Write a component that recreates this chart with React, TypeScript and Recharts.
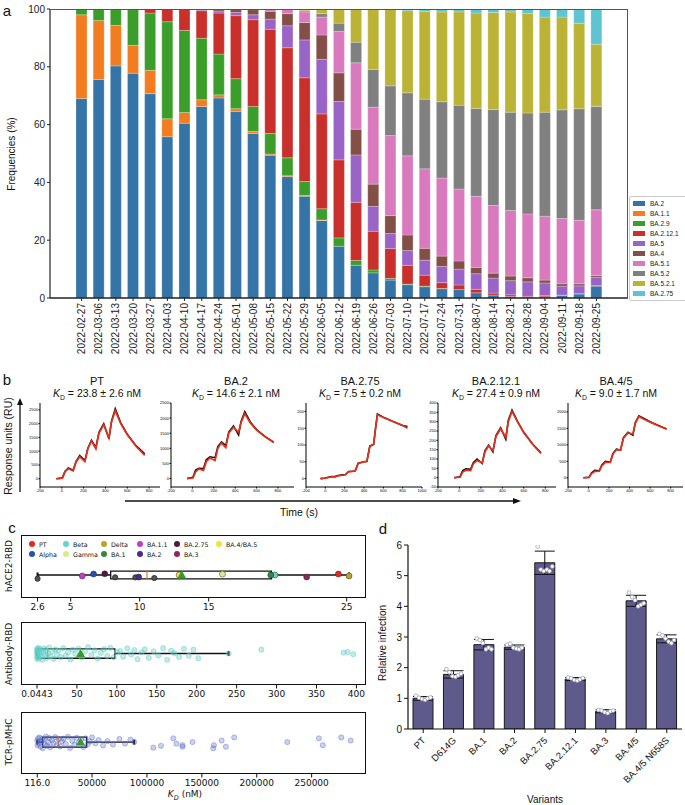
import React from "react"
import {
  Bar, BarChart, ComposedChart, ErrorBar, Legend, Line, LineChart,
  ReferenceArea, ReferenceLine, Scatter, XAxis, YAxis,
} from "recharts"

// ---------- panel a: lineage frequencies ----------
const weeks = [
  "2022-02-27", "2022-03-06", "2022-03-13", "2022-03-20", "2022-03-27", "2022-04-03", "2022-04-10",
  "2022-04-17", "2022-04-24", "2022-05-01", "2022-05-08", "2022-05-15", "2022-05-22", "2022-05-29",
  "2022-06-05", "2022-06-12", "2022-06-19", "2022-06-26", "2022-07-03", "2022-07-10", "2022-07-17",
  "2022-07-24", "2022-07-31", "2022-08-07", "2022-08-14", "2022-08-21", "2022-08-28", "2022-09-04",
  "2022-09-11", "2022-09-18", "2022-09-25",
]
const lineages = ["BA.2", "BA.1.1", "BA.2.9", "BA.2.12.1", "BA.5", "BA.4", "BA.5.1", "BA.5.2", "BA.5.2.1", "BA.2.75"]
const lineageColors = ["#3574a6", "#f47c20", "#3b9e2a", "#c9302c", "#9a63c6", "#844f47", "#d97abf", "#808080", "#bab335", "#5ec4d2"]

const freqBA2 = [69.0, 75.6, 80.3, 77.8, 70.7, 55.8, 60.5, 66.3, 69.2, 64.5, 56.9, 49.4, 42.0, 35.2, 26.8, 17.9, 11.3, 8.7, 6.2, 4.6, 3.9, 3.2, 2.9, 1.8, 1.0, 0.5, 0.3, 0.4, 0.9, 1.4, 4.1]
const freqBA11 = [29.0, 20.4, 14.0, 9.6, 8.1, 6.2, 3.7, 2.3, 1.1, 1.0, 0.7, 0.4, 0.3, 0.3, 0.2, 0, 0, 0, 0, 0, 0, 0, 0, 0, 0, 0, 0, 0, 0, 0, 0]
const freqBA29 = [2.0, 4.0, 5.7, 12.4, 19.8, 33.6, 28.4, 21.3, 14.1, 10.4, 8.7, 7.1, 6.2, 4.8, 3.9, 2.9, 1.7, 1.0, 0.6, 0.2, 0.2, 0.1, 0, 0, 0, 0, 0, 0, 0, 0, 0]
const freqBA2121 = [0, 0, 0, 0.2, 1.4, 4.4, 7.2, 9.5, 14.2, 21.8, 30.0, 36.1, 38.1, 35.9, 32.8, 27.0, 20.1, 13.4, 10.3, 6.5, 3.8, 2.0, 1.6, 1.2, 0.7, 0.6, 0.3, 0.4, 0.1, 0.1, 0.2]
const freqBA5 = [0, 0, 0, 0, 0, 0, 0.2, 0.4, 0.7, 1.1, 1.7, 3.5, 7.6, 13.1, 18.9, 20.2, 16.4, 8.6, 5.2, 5.1, 5.2, 5.6, 5.5, 5.4, 5.2, 4.9, 5.0, 4.4, 3.1, 2.7, 2.9]
const freqBA4 = [0, 0, 0, 0, 0, 0, 0, 0.2, 0.7, 1.2, 1.8, 2.7, 4.2, 6.0, 8.4, 9.9, 8.9, 7.7, 6.2, 5.4, 4.1, 3.6, 2.8, 2.2, 1.7, 1.6, 1.4, 1.0, 0.8, 0.7, 0.6]
const freqBA51 = [0, 0, 0, 0, 0, 0, 0, 0, 0, 0, 0.2, 0.8, 1.6, 3.7, 6.2, 14.3, 23.0, 26.6, 27.7, 27.4, 27.5, 27.0, 24.9, 24.6, 23.4, 22.7, 22.1, 22.1, 22.6, 22.0, 22.7]
const freqBA52 = [0, 0, 0, 0, 0, 0, 0, 0, 0, 0, 0, 0, 0, 0.4, 1.2, 2.9, 7.1, 13.1, 17.2, 21.8, 24.1, 26.4, 29.0, 30.4, 33.2, 34.0, 34.9, 36.0, 37.6, 38.6, 35.8]
const freqBA521 = [0, 0, 0, 0, 0, 0, 0, 0, 0, 0, 0, 0, 0, 0.6, 1.6, 4.9, 11.5, 20.9, 26.4, 28.4, 30.4, 31.1, 32.3, 33.0, 33.6, 34.7, 34.5, 32.9, 32.1, 29.6, 21.5]
const freqBA275 = [0, 0, 0, 0, 0, 0, 0, 0, 0, 0, 0, 0, 0, 0, 0, 0, 0, 0, 0.2, 0.6, 0.8, 1.0, 1.0, 1.4, 1.2, 1.0, 1.5, 2.8, 2.8, 4.9, 12.2]
const freqSeries = [freqBA2, freqBA11, freqBA29, freqBA2121, freqBA5, freqBA4, freqBA51, freqBA52, freqBA521, freqBA275]
const freqTicks = [0, 20, 40, 60, 80, 100]

// ---------- panel b: SPR sensorgrams ----------
const sprTime = [-50, 5, 30, 60, 104, 130, 164, 212, 238, 272, 312, 340, 384, 432, 455, 490, 540, 600, 680, 760]
const ptMeasured = [0, 30, 270, 390, 310, 620, 840, 660, 1100, 1400, 1130, 1680, 2000, 1450, 2080, 2540, 2030, 1620, 1200, 900]
const ptFit = [0, 20, 260, 360, 290, 600, 800, 620, 1080, 1370, 1090, 1650, 1960, 1480, 2050, 2470, 2000, 1600, 1180, 850]
const ba2Measured = [0, 40, 280, 340, 330, 620, 720, 690, 1060, 1210, 1090, 1540, 1740, 1440, 1890, 2210, 1880, 1620, 1390, 1200]
const ba2Fit = [0, 20, 220, 320, 270, 560, 680, 600, 1000, 1180, 1020, 1500, 1700, 1530, 1850, 2150, 1850, 1600, 1380, 1200]
const ba275Time = [-50, 0, 60, 100, 130, 180, 210, 240, 290, 310, 340, 400, 430, 460, 500, 520, 539, 600, 700, 800, 850]
const ba275Measured = [0, 2, 6, 6, 9, 11, 12, 21, 22, 23, 46, 50, 51, 97, 102, 152, 192, 183, 170, 158, 155]
const ba275Fit = [0, 1, 5, 5, 8, 10, 12, 20, 22, 24, 45, 50, 52, 95, 103, 150, 190, 182, 170, 158, 150]
const ba2121Measured = [0, 5, 38, 48, 45, 82, 100, 76, 145, 174, 138, 226, 268, 206, 306, 362, 303, 243, 182, 133]
const ba2121Fit = [0, 2, 30, 40, 38, 75, 92, 80, 140, 170, 145, 220, 262, 215, 300, 355, 300, 240, 180, 130]
const ba45Measured = [0, 15, 150, 225, 210, 390, 500, 480, 740, 870, 840, 1220, 1380, 1290, 1670, 1880, 1800, 1700, 1590, 1480]
const ba45Fit = [0, 10, 130, 190, 200, 360, 470, 470, 720, 850, 850, 1200, 1360, 1330, 1650, 1860, 1780, 1690, 1580, 1480]

// ---------- panel c: K_D distributions ----------
const hostVariants = ["PT", "Alpha", "Beta", "Gamma", "Delta", "BA.1", "BA.1.1", "BA.2", "BA.2.75", "BA.3", "BA.4/BA.5"]
const hostColors = ["#e8281e", "#2a4fb5", "#62d3cf", "#dfe98a", "#b7a726", "#2f8a39", "#c03fc9", "#4b2b8a", "#4e1a42", "#8c2a5c", "#f2e23a"]
const hace2Kd = [24.4, 6.66, 19.8, 16.0, 25.17, 19.5, 5.84, 9.93, 7.47, 22.1, 12.86]
const hace2Jitter = [0.04, 0.04, 0.0, 0.04, -0.04, 0.0, -0.04, -0.09, 0.05, -0.09, 0.0]
const hace2OtherKd = [2.6, 8.22, 9.69, 11.06]
const hace2OtherJitter = [-0.16, -0.1, -0.1, -0.13]
const hace2Box = [2.6, 7.9, 10.53, 19.55, 25.17]
const hace2Mean = 13.05
const hace2Ticks = [2.6, 5, 10, 15, 25]

const antibodyKd = [0.04, 0.1, 0.2, 0.3, 0.5, 0.7, 0.9, 1.2, 1.5, 2, 2.5, 3, 3.5, 4, 5, 6, 7, 8, 9, 10, 11, 12, 14, 15, 17, 19, 21, 23, 25, 27, 30, 33, 36, 39, 42, 45, 48, 52, 56, 60, 64, 68, 72, 76, 80, 84, 88, 92, 96, 100, 104, 108, 113, 118, 122, 126, 131, 135, 140, 146, 152, 158, 163, 168, 172, 178, 184, 190, 196, 202, 240, 281, 384, 389, 396]
const antibodyJitter = [0.05, -0.12, 0.15, -0.03, 0.1, -0.18, 0.02, 0.12, -0.08, 0.18, -0.15, 0.06, -0.02, 0.14, -0.1, 0.08, -0.2, 0.03, 0.16, -0.06, 0.11, -0.14, 0.0, 0.19, -0.09, 0.07, -0.17, 0.13, -0.04, 0.09, -0.11, 0.17, -0.07, 0.04, -0.19, 0.12, -0.01, 0.15, -0.13, 0.06, 0.2, -0.05, 0.1, -0.16, 0.02, 0.14, -0.08, 0.18, -0.12, 0.05, 0.08, -0.1, 0.16, -0.03, 0.11, -0.18, 0.04, 0.13, -0.14, 0.07, -0.06, 0.17, -0.2, 0.09, 0.01, -0.11, 0.15, -0.07, 0.12, -0.15, 0.0, 0.12, 0.03, 0.05, -0.02]
const antibodyBox = [0.0443, 0.5, 13.4, 97.5, 240]
const antibodyMean = 54.6
const antibodyTicks = [0.0443, 50, 100, 150, 200, 250, 300, 350, 400]

const tcrKd = [116, 400, 900, 1500, 2200, 3000, 3800, 4500, 5200, 6000, 7000, 8000, 9000, 10000, 11000, 12000, 13500, 15000, 16500, 18000, 19500, 21000, 22500, 24000, 26000, 28000, 30000, 32000, 34000, 36000, 38000, 40000, 42000, 44000, 46000, 48000, 50000, 53000, 56000, 60000, 64000, 69000, 75000, 80000, 85000, 88400, 105800, 112800, 124000, 126900, 132400, 132400, 141500, 160400, 161000, 168000, 171900, 179500, 227800, 256600, 260100, 277000, 285500]
const tcrJitter = [0.05, -0.1, 0.12, -0.05, 0.15, -0.15, 0.02, 0.1, -0.2, 0.07, -0.08, 0.18, -0.12, 0.0, 0.13, -0.17, 0.06, -0.03, 0.16, -0.1, 0.09, -0.14, 0.03, 0.11, -0.06, 0.17, -0.19, 0.04, -0.09, 0.14, -0.02, 0.08, -0.16, 0.12, -0.07, 0.02, 0.15, -0.04, 0.06, -0.11, 0.03, -0.08, 0.1, -0.05, 0.08, 0.0, -0.18, -0.12, 0.12, -0.05, -0.1, -0.15, 0.0, -0.2, -0.1, 0.05, -0.15, 0.15, 0.0, 0.12, -0.1, 0.15, 0.05]
const tcrBox = [116, 5000, 19200, 45100, 88400]
const tcrMean = 39600
const tcrTicks = [116, 50000, 100000, 150000, 200000, 250000]

// ---------- panel d: relative infection ----------
const infectionVariants = ["PT", "D614G", "BA.1", "BA.2", "BA.2.75", "BA.2.12.1", "BA.3", "BA.4/5", "BA.4/5 N658S"]
const infectionMean = [1.0, 1.78, 2.75, 2.67, 5.42, 1.63, 0.58, 4.18, 2.94]
const infectionErr = [0.06, 0.12, 0.17, 0.07, 0.38, 0.05, 0.05, 0.18, 0.13]
const infectionReps = [
  [1.08, 1.02, 0.98, 0.95, 1.0, 1.03],
  [1.95, 1.85, 1.72, 1.7, 1.75, 1.8],
  [2.95, 2.9, 2.8, 2.6, 2.65, 2.6],
  [2.75, 2.78, 2.65, 2.62, 2.6, 2.65],
  [5.95, 5.2, 5.15, 5.2, 5.15, 5.3],
  [1.68, 1.65, 1.6, 1.58, 1.62, 1.66],
  [0.62, 0.6, 0.55, 0.52, 0.58, 0.6],
  [4.45, 4.3, 4.2, 4.0, 4.05, 4.1],
  [3.1, 3.05, 2.95, 2.85, 2.8, 2.9],
]
const repOffsets = [-0.24, -0.14, -0.04, 0.06, 0.15, 0.24]

const ARIAL = '"Liberation Sans", Arial, sans-serif'
const DEJAVU = '"DejaVu Sans", sans-serif'

function Txt({ cx, cy, size, rotate, family, children }: any) {
  return (
    <div style={{
      position: "absolute", left: cx, top: cy, whiteSpace: "nowrap", lineHeight: 1,
      fontSize: size, fontFamily: family || ARIAL,
      transform: `translate(-50%, -50%)${rotate ? ` rotate(${rotate}deg)` : ""}`,
    }}>{children}</div>
  )
}

function Kd({ text }: { text: string }) {
  return (
    <span>
      <i>K</i><span style={{ fontSize: "0.65em", position: "relative", top: 3 }}>D</span> = {text}
    </span>
  )
}

const DateTick = ({ x, y, payload }: any) => (
  <text x={x} y={y} transform={`rotate(-90 ${x} ${y})`} textAnchor="end" dominantBaseline="central"
    fontSize={10} fill="#222" fontFamily={ARIAL}>{payload.value}</text>
)

const VariantTick = ({ x, y, payload }: any) => (
  <text x={x + 3} y={y + 6} transform={`rotate(-45 ${x + 3} ${y + 6})`} textAnchor="end"
    fontSize={9.5} fill="#111" fontFamily={ARIAL}>{payload.value}</text>
)

function FreqLegend() {
  return (
    <div style={{ border: "1px solid #ccc", borderRadius: 2, background: "#fff", padding: "1px 3px", fontFamily: ARIAL }}>
      {lineages.map((name, i) => (
        <div key={name} style={{ display: "flex", alignItems: "center", height: 10.1, fontSize: 6.5, color: "#222" }}>
          <span style={{ width: 12, height: 5, background: lineageColors[i], marginRight: 5, display: "inline-block" }} />
          {name}
        </div>
      ))}
    </div>
  )
}

function FrequencyPanel() {
  const rows = weeks.map((w, i) => {
    const row: any = { week: w }
    lineages.forEach((l, k) => { row[l] = freqSeries[k][i] })
    return row
  })
  return (
    <>
      <div style={{ position: "absolute", left: 0, top: 0 }}>
        <BarChart width={685} height={380} data={rows} margin={{ top: 9, right: 57, left: 0, bottom: 0 }} barSize={11}>
          <XAxis dataKey="week" interval={0} height={82} tick={<DateTick />} tickSize={3}
            padding={{ left: 23, right: 23 }} axisLine={{ stroke: "#222", strokeWidth: 1.5 }} tickLine={{ stroke: "#222" }} />
          <YAxis domain={[0, 100]} ticks={freqTicks} width={50} tickSize={3} allowDataOverflow
            tick={{ fontSize: 10, fill: "#222", fontFamily: ARIAL }}
            axisLine={{ stroke: "#222", strokeWidth: 1.2 }} tickLine={{ stroke: "#222" }} />
          {lineages.map((l, k) => (
            <Bar key={l} dataKey={l} stackId="f" fill={lineageColors[k]} stroke="rgba(255,255,255,0.6)" strokeWidth={0.4} isAnimationActive={false} />
          ))}
          <Legend layout="vertical" align="center" verticalAlign="middle" content={() => <FreqLegend />}
            wrapperStyle={{ left: 629, top: 196, width: 62 }} />
        </BarChart>
      </div>
      <div style={{ position: "absolute", left: 50, top: 9, width: 578, height: 289, boxSizing: "border-box", borderTop: "1px solid #555", borderRight: "1px solid #555" }} />
      <Txt cx={12} cy={154} size={10} rotate={-90}>Frequencies (%)</Txt>
    </>
  )
}

function SprChart({ left, width, time, measured, fit, xDomain, xTicks, yDomain, yTicks, title, kd, titleX, right = 2 }: any) {
  const rows = time.map((t: number, i: number) => ({ t, measured: measured[i], fit: fit[i] }))
  const tickStyle = { fontSize: 4, fill: "#000", fontFamily: ARIAL }
  return (
    <>
      <Txt cx={titleX} cy={381} size={11}>{title}</Txt>
      <Txt cx={titleX} cy={393} size={10.5}><Kd text={kd} /></Txt>
      <div style={{ position: "absolute", left: left - 14, top: 400 }}>
        <LineChart width={width + 14 + right} height={95} data={rows} margin={{ top: 3, right, left: 0, bottom: 0 }}>
          <XAxis type="number" dataKey="t" domain={xDomain} ticks={xTicks} interval={0} allowDataOverflow height={8}
            tick={tickStyle} tickSize={1.5} tickMargin={0.5} axisLine={{ stroke: "#000" }} tickLine={{ stroke: "#000" }} />
          <YAxis type="number" domain={yDomain} ticks={yTicks} interval={0} allowDataOverflow width={14}
            tick={tickStyle} tickSize={1.5} tickMargin={0.5} axisLine={{ stroke: "#000" }} tickLine={{ stroke: "#000" }} />
          <Line type="linear" dataKey="measured" stroke="#111" strokeWidth={1.6} dot={false} isAnimationActive={false} />
          <Line type="linear" dataKey="fit" stroke="#e5301d" strokeWidth={1.7} dot={false} isAnimationActive={false} />
        </LineChart>
      </div>
    </>
  )
}

function SprPanel() {
  const t1 = [-200, 0, 200, 400, 600, 800]
  const t2 = [-200, 0, 200, 400, 600, 800, 1000]
  return (
    <>
      <SprChart left={40} width={120} time={sprTime} measured={ptMeasured} fit={ptFit} xDomain={[-200, 900]} xTicks={t1}
        yDomain={[-300, 2750]} yTicks={[0, 500, 1000, 1500, 2000, 2500]} title="PT" kd="23.8 ± 2.6 nM" titleX={97} />
      <SprChart left={171} width={123} time={sprTime} measured={ba2Measured} fit={ba2Fit} xDomain={[-200, 950]} xTicks={t1}
        yDomain={[-280, 2500]} yTicks={[0, 500, 1000, 1500, 2000, 2500]} title="BA.2" kd="14.6 ± 2.1 nM" titleX={236} />
      <SprChart left={306} width={116} right={8} time={ba275Time} measured={ba275Measured} fit={ba275Fit} xDomain={[-200, 1000]} xTicks={t2}
        yDomain={[-25, 225]} yTicks={[0, 50, 100, 150, 200]} title="BA.2.75" kd="7.5 ± 0.2 nM" titleX={360} />
      <SprChart left={438} width={118} time={sprTime} measured={ba2121Measured} fit={ba2121Fit} xDomain={[-200, 900]} xTicks={t1}
        yDomain={[-50, 400]} yTicks={[-50, 0, 50, 100, 150, 200, 250, 300, 350, 400]} title="BA.2.12.1" kd="27.4 ± 0.9 nM" titleX={496} />
      <SprChart left={568} width={115} time={sprTime} measured={ba45Measured} fit={ba45Fit} xDomain={[-200, 920]} xTicks={t1}
        yDomain={[-280, 2270]} yTicks={[0, 500, 1000, 1500, 2000]} title="BA.4/5" kd="9.0 ± 1.7 nM" titleX={616} />
      <svg style={{ position: "absolute", left: 0, top: 390 }} width={685} height={130}>
        <line x1={20} y1={102} x2={20} y2={13} stroke="#111" strokeWidth={1.3} />
        <polygon points="20,8 17,15 23,15" fill="#111" />
        <line x1={125} y1={111} x2={514} y2={111} stroke="#111" strokeWidth={1.3} />
        <polygon points="521,111 513,108 513,114" fill="#111" />
      </svg>
      <Txt cx={8} cy={446} size={10.5} rotate={-90}>Response units (RU)</Txt>
      <Txt cx={299} cy={512} size={10.5}>Time (s)</Txt>
    </>
  )
}

const dotShape = (r: number, fill: string, stroke: string) => (p: any) =>
  <circle cx={p.cx} cy={p.cy} r={r} fill={fill} stroke={stroke} strokeWidth={0.8} />
const triangleShape = (p: any) =>
  <polygon points={`${p.cx},${p.cy - 4.5} ${p.cx - 4.5},${p.cy + 3.5} ${p.cx + 4.5},${p.cy + 3.5}`} fill="#3a9b2c" />

function boxElements(stats: number[], half: number, cap: number) {
  const [lo, q1, med, q3, hi] = stats
  const s = { stroke: "#111", strokeWidth: 1.3 }
  return [
    <ReferenceLine key="wl" segment={[{ x: lo, y: 0 }, { x: q1, y: 0 }]} {...s} />,
    <ReferenceLine key="wr" segment={[{ x: q3, y: 0 }, { x: hi, y: 0 }]} {...s} />,
    <ReferenceLine key="cl" segment={[{ x: lo, y: -cap }, { x: lo, y: cap }]} stroke="#111" strokeWidth={2} />,
    <ReferenceLine key="cr" segment={[{ x: hi, y: -cap }, { x: hi, y: cap }]} stroke="#111" strokeWidth={2} />,
    <ReferenceArea key="box" x1={q1} x2={q3} y1={-half} y2={half} fill="none" fillOpacity={0} stroke="#111" strokeWidth={1.3} />,
    <ReferenceLine key="med" segment={[{ x: med, y: -half }, { x: med, y: half }]} stroke="#f07f1c" strokeWidth={1.3} />,
  ]
}

function KdRow({ top, h, xDomain, yDomain, ticks, fmt, children }: any) {
  return (
    <>
      <div style={{ position: "absolute", left: 17, top }}>
        <ComposedChart width={349} height={h + 22} margin={{ top: 0, right: 0, bottom: 0, left: 4 }}>
          <XAxis type="number" dataKey="x" domain={xDomain} ticks={ticks} interval={0} allowDataOverflow height={22}
            tickFormatter={fmt} axisLine={false} tickSize={3.5} tickMargin={2} tickLine={{ stroke: "#111" }}
            tick={{ fontSize: 9, fill: "#111", fontFamily: DEJAVU }} />
          <YAxis type="number" domain={yDomain} ticks={[0]} width={0} tick={false} tickSize={3.5}
            axisLine={false} tickLine={{ stroke: "#111" }} allowDataOverflow />
          {children}
        </ComposedChart>
      </div>
      <div style={{ position: "absolute", left: 21, top, width: 345, height: h, boxSizing: "border-box", border: "1.2px solid #111" }} />
    </>
  )
}

function KdPanel() {
  const legendCols = [32, 66, 104, 140, 177, 219]
  return (
    <>
      <KdRow top={535} h={63} xDomain={[1.4, 26.4]} yDomain={[-1, 1.74]} ticks={hace2Ticks} fmt={(v: number) => String(v)}>
        {boxElements(hace2Box, 0.165, 0.11)}
        <Scatter data={hace2OtherKd.map((x, i) => ({ x, y: hace2OtherJitter[i] }))} dataKey="y" isAnimationActive={false}
          shape={dotShape(2.6, "#555", "#222")} />
        {hostVariants.map((v, i) => (
          <Scatter key={v} name={v} data={[{ x: hace2Kd[i], y: hace2Jitter[i] }]} dataKey="y" isAnimationActive={false}
            shape={dotShape(3, hostColors[i], "rgba(40,40,40,0.6)")} />
        ))}
        <Scatter data={[{ x: hace2Mean, y: 0 }]} dataKey="y" isAnimationActive={false} shape={triangleShape} />
      </KdRow>
      {hostVariants.map((v, i) => (
        <div key={v} style={{ position: "absolute", left: legendCols[Math.floor(i / 2)] - 3, top: (i % 2 ? 554 : 544) - 4, display: "flex", alignItems: "center", height: 8, fontSize: 6.3, fontFamily: DEJAVU, whiteSpace: "nowrap" }}>
          <span style={{ width: 6, height: 6, borderRadius: "50%", background: hostColors[i], marginRight: 4, display: "inline-block" }} />
          {v}
        </div>
      ))}
      <Txt cx={9} cy={566} size={9} rotate={-90} family={DEJAVU}>hACE2-RBD</Txt>

      <KdRow top={622} h={63} xDomain={[-20, 412]} yDomain={[-1, 1]} ticks={antibodyTicks} fmt={(v: number) => String(v)}>
        <Scatter data={antibodyKd.map((x, i) => ({ x, y: antibodyJitter[i] }))} dataKey="y" isAnimationActive={false}
          shape={dotShape(2.6, "rgba(98,206,198,0.4)", "rgba(98,206,198,0.55)")} />
        {boxElements(antibodyBox, 0.15, 0.08)}
        <Scatter data={[{ x: antibodyMean, y: 0 }]} dataKey="y" isAnimationActive={false} shape={triangleShape} />
      </KdRow>
      <Txt cx={9} cy={654} size={9} rotate={-90} family={DEJAVU}>Antibody-RBD</Txt>

      <KdRow top={712} h={62} xDomain={[-14700, 299500]} yDomain={[-1.03, 0.97]} ticks={tcrTicks}
        fmt={(v: number) => (v === 116 ? "116.0" : String(v))}>
        <Scatter data={tcrKd.map((x, i) => ({ x, y: tcrJitter[i] }))} dataKey="y" isAnimationActive={false}
          shape={dotShape(2.6, "rgba(80,100,200,0.3)", "rgba(80,100,200,0.45)")} />
        {boxElements(tcrBox, 0.16, 0.08)}
        <Scatter data={[{ x: tcrMean, y: 0 }]} dataKey="y" isAnimationActive={false} shape={triangleShape} />
      </KdRow>
      <Txt cx={9} cy={742} size={9} rotate={-90} family={DEJAVU}>TCR-pMHC</Txt>
      <Txt cx={185} cy={796} size={9} family={DEJAVU}><i>K</i><sub style={{ fontSize: 6.5 }}><i>D</i></sub> (nM)</Txt>
    </>
  )
}

function InfectionPanel() {
  const rows = infectionVariants.map((name, i) => ({ name, mean: infectionMean[i], err: infectionErr[i] }))
  const reps: any[] = []
  infectionReps.forEach((vals, i) => vals.forEach((y, k) => reps.push({ x: i + repOffsets[k], y })))
  return (
    <>
      <div style={{ position: "absolute", left: 370, top: 540 }}>
        <ComposedChart width={315} height={265} data={rows} margin={{ top: 5, right: 3, left: 0, bottom: 0 }}>
          <XAxis dataKey="name" interval={0} height={76} tick={<VariantTick />} tickSize={4}
            axisLine={{ stroke: "#111", strokeWidth: 1.2 }} tickLine={{ stroke: "#111" }} />
          <XAxis xAxisId="pts" type="number" dataKey="x" domain={[-0.5, 8.5]} hide allowDataOverflow />
          <YAxis type="number" domain={[0, 6]} ticks={[0, 1, 2, 3, 4, 5, 6]} width={38} tickSize={4} allowDataOverflow
            tick={{ fontSize: 10, fill: "#111", fontFamily: ARIAL }}
            axisLine={{ stroke: "#111", strokeWidth: 1.2 }} tickLine={{ stroke: "#111" }} />
          <Bar dataKey="mean" fill="#5e5a8b" stroke="#1a1a1a" strokeWidth={1} barSize={20} isAnimationActive={false}>
            <ErrorBar dataKey="err" width={10} stroke="#111" strokeWidth={1} direction="y" />
          </Bar>
          <Scatter xAxisId="pts" data={reps} dataKey="y" isAnimationActive={false} shape={dotShape(1.9, "#fff", "#a0a0bc")} />
        </ComposedChart>
      </div>
      <Txt cx={383} cy={643} size={10} rotate={-90}>Relative infection</Txt>
      <Txt cx={545} cy={800} size={10}>Variants</Txt>
    </>
  )
}

export default function App() {
  return (
    <div style={{ position: "absolute", left: 0, top: 0, width: 685, height: 805, overflow: "hidden", background: "#fff", fontFamily: ARIAL, color: "#111" }}>
      <FrequencyPanel />
      <SprPanel />
      <KdPanel />
      <InfectionPanel />
      <Txt cx={7} cy={10} size={15}>a</Txt>
      <Txt cx={7} cy={379} size={15}>b</Txt>
      <Txt cx={12} cy={527} size={15}>c</Txt>
      <Txt cx={383} cy={528} size={15}>d</Txt>
    </div>
  )
}
